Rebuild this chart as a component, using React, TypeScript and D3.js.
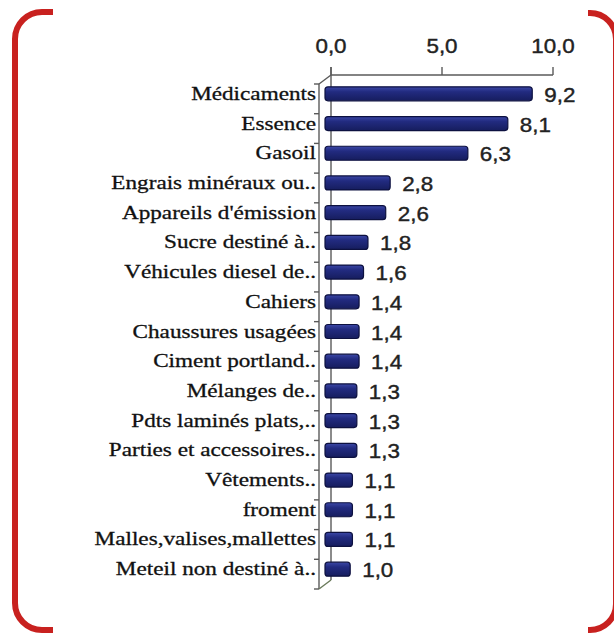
import React from "react";
import * as d3 from "d3";

const categories = [
  "Médicaments",
  "Essence",
  "Gasoil",
  "Engrais minéraux ou..",
  "Appareils d'émission",
  "Sucre destiné à..",
  "Véhicules diesel de..",
  "Cahiers",
  "Chaussures usagées",
  "Ciment portland..",
  "Mélanges de..",
  "Pdts laminés plats,..",
  "Parties et accessoires..",
  "Vêtements..",
  "froment",
  "Malles,valises,mallettes",
  "Meteil non destiné à..",
];
const values = [9.2, 8.1, 6.3, 2.8, 2.6, 1.8, 1.6, 1.4, 1.4, 1.4, 1.3, 1.3, 1.3, 1.1, 1.1, 1.1, 1.0];
const tickValues = [0, 5, 10];

const W = 614;
const H = 634;
const fmt = (v: number) => v.toFixed(1).replace(".", ",");

export default function App() {
  const x = d3.scaleLinear().domain([0, 10]).range([331, 553]);
  const y = d3.scaleBand<string>().domain(categories).range([75, 580]).paddingInner(0).paddingOuter(0);
  const dX = -12;
  const dY = 9;
  const barDX = -6;
  const barDY = 4;
  const barH = 14;
  const axisColor = "#5a5a5a";
  const serif = "Liberation Serif, DejaVu Serif, Times New Roman, serif";
  const sans = "Liberation Sans, Arial, sans-serif";
  const yTop = y.range()[0];
  const yBot = y.range()[1];
  const x0 = x(0);

  return (
    <svg
      width={W}
      height={H}
      viewBox={`0 0 ${W} ${H}`}
      style={{ position: "absolute", left: 0, top: 0, background: "#fff" }}
    >
      <defs>
        <linearGradient id="barGrad" x1="0" y1="0" x2="0" y2="1">
          <stop offset="0%" stopColor="#3b47a6" />
          <stop offset="35%" stopColor="#222b80" />
          <stop offset="100%" stopColor="#161d5e" />
        </linearGradient>
      </defs>

      <path
        d="M 53 12 H 42 A 27 27 0 0 0 15 39 V 603 A 27 27 0 0 0 42 630 H 53"
        fill="none"
        stroke="#c8211f"
        strokeWidth={6}
      />
      <path
        d="M 588 13 H 590 A 26 26 0 0 1 616 39 V 604 A 26 26 0 0 1 590 630 H 588"
        fill="none"
        stroke="#c8211f"
        strokeWidth={6}
      />

      <line x1={x0} x2={x(10)} y1={yTop} y2={yTop} stroke={axisColor} strokeWidth={1.4} />
      {tickValues.map((t) => (
        <g key={t}>
          <line x1={x(t)} x2={x(t)} y1={yTop - 8} y2={yTop} stroke={axisColor} strokeWidth={1.4} />
          <text
            transform={`translate(${x(t)},53) scale(1.12,1)`}
            textAnchor="middle"
            style={{ fontFamily: sans, fontSize: "20px" }}
            fill="#222"
            stroke="#222"
            strokeWidth={0.4}
          >
            {fmt(t)}
          </text>
        </g>
      ))}

      <line x1={x0} x2={x0} y1={yTop - 8} y2={yBot} stroke={axisColor} strokeWidth={1.4} />
      <line x1={x0 + dX} x2={x0 + dX} y1={yTop + dY} y2={yBot + dY} stroke={axisColor} strokeWidth={1.4} />
      <line x1={x0} x2={x0 + dX} y1={yTop} y2={yTop + dY} stroke={axisColor} strokeWidth={1.4} />
      <line x1={x0} x2={x0 + dX} y1={yBot} y2={yBot + dY} stroke="#6a7a5a" strokeWidth={1.4} />
      {d3.range(categories.length + 1).map((i) => {
        const yy = yTop + i * y.step() + dY;
        return (
          <line key={i} x1={x0 + dX - 5} x2={x0 + dX} y1={yy} y2={yy} stroke={axisColor} strokeWidth={1.4} />
        );
      })}

      {categories.map((c, i) => {
        const cy = (y(c) as number) + y.bandwidth() / 2 + barDY;
        const bx0 = x0 + barDX;
        const bx1 = x(values[i]) - 3;
        return (
          <g key={c}>
            <rect
              x={bx0}
              y={cy - barH / 2}
              width={bx1 - bx0}
              height={barH}
              rx={3}
              fill="url(#barGrad)"
              stroke="#0d1140"
              strokeWidth={1.2}
            />
            <text
              transform={`translate(${x(values[i]) + 9},${cy + 8}) scale(1.12,1)`}
              style={{ fontFamily: sans, fontSize: "20px" }}
              fill="#222"
              stroke="#222"
              strokeWidth={0.4}
            >
              {fmt(values[i])}
            </text>
            <text
              transform={`translate(316,${cy + 6}) scale(1.22,1)`}
              textAnchor="end"
              style={{ fontFamily: serif, fontSize: "19px" }}
              fill="#111"
              stroke="#111"
              strokeWidth={0.3}
            >
              {c}
            </text>
          </g>
        );
      })}
    </svg>
  );
}
